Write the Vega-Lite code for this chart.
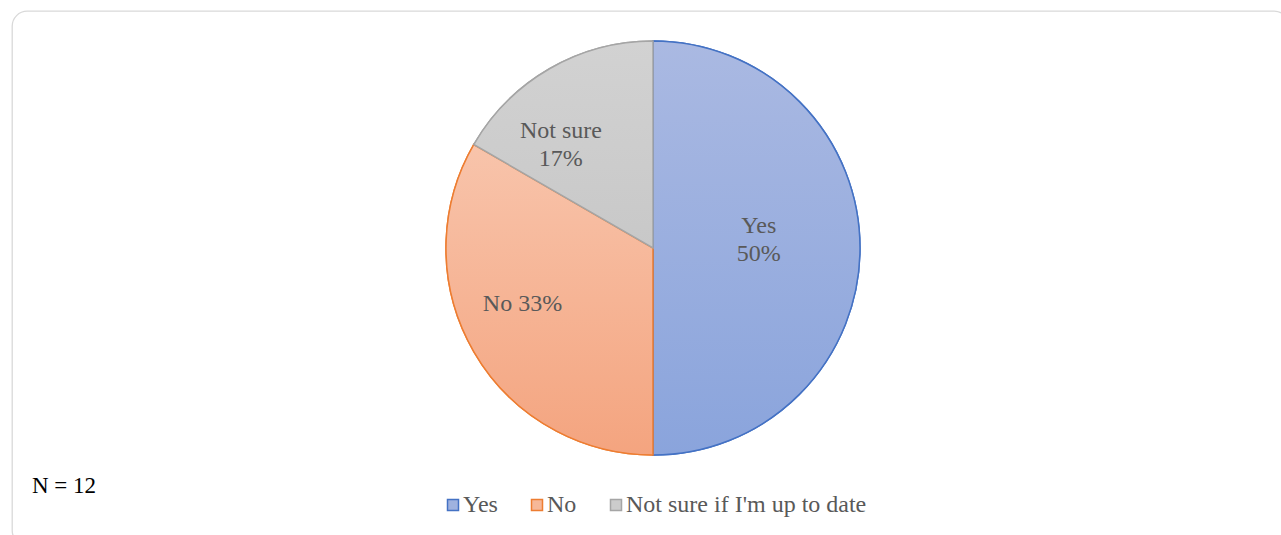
{
  "$schema": "https://vega.github.io/schema/vega-lite/v6.json",
  "width": 1281,
  "height": 535,
  "autosize": {"type": "fit", "contains": "padding"},
  "padding": {"left": 12, "top": 11, "right": -8, "bottom": -10},
  "background": "white",
  "view": {"stroke": "#d9d9d9", "strokeWidth": 1.3, "cornerRadius": 15, "fill": "white"},
  "title": {
    "text": "N = 12",
    "orient": "bottom",
    "anchor": "start",
    "frame": "group",
    "offset": -70,
    "dx": 20,
    "font": "Liberation Serif",
    "fontSize": 23,
    "fontWeight": "normal",
    "color": "#000000"
  },
  "data": {
    "values": [
      {"cat": "Yes", "value": 6, "order": 1, "label": "Yes\n50%"},
      {"cat": "No", "value": 4, "order": 2, "label": "No 33%"},
      {"cat": "Not sure if I'm up to date", "value": 2, "order": 3, "label": "Not sure\n17%"}
    ]
  },
  "encoding": {
    "theta": {"field": "value", "type": "quantitative", "stack": true},
    "order": {"field": "order", "type": "quantitative", "sort": "ascending"},
    "detail": {"field": "cat", "type": "nominal"}
  },
  "layer": [
    {
      "mark": {"type": "arc", "x": 641, "y": 237, "outerRadius": 207, "strokeWidth": 1.5},
      "encoding": {
        "fill": {
          "field": "cat", "type": "nominal",
          "sort": ["Yes", "No", "Not sure if I'm up to date"],
          "scale": {"domain": ["Yes", "No", "Not sure if I'm up to date"], "range": ["#9fb2df", "#f6b898", "#cccccc"]},
          "legend": {
            "title": null,
            "orient": "none",
            "legendX": 429,
            "legendY": 482,
            "direction": "horizontal",
            "symbolType": "square",
            "symbolSize": 121,
            "symbolStrokeWidth": 1.5,
            "labelFont": "Liberation Serif",
            "labelFontSize": 24,
            "labelColor": "#595959",
            "labelOffset": -2,
            "labelLimit": 0,
            "columnPadding": 27
          }
        },
        "stroke": {
          "field": "cat", "type": "nominal",
          "sort": ["Yes", "No", "Not sure if I'm up to date"],
          "scale": {"domain": ["Yes", "No", "Not sure if I'm up to date"], "range": ["#4472c4", "#ed7d31", "#a5a5a5"]},
          "legend": {
            "title": null,
            "orient": "none",
            "legendX": 429,
            "legendY": 482,
            "direction": "horizontal",
            "symbolType": "square",
            "symbolSize": 121,
            "symbolStrokeWidth": 1.5,
            "labelFont": "Liberation Serif",
            "labelFontSize": 24,
            "labelColor": "#595959",
            "labelOffset": -2,
            "labelLimit": 0,
            "columnPadding": 27
          }
        }
      }
    },
    {
      "mark": {"type": "arc", "x": 641, "y": 237, "outerRadius": 207, "strokeWidth": 1.5},
      "encoding": {
        "fill": {
          "condition": [
            {"test": "datum.order === 1", "value": {"gradient": "linear", "x1": 0, "y1": 0, "x2": 0, "y2": 1, "stops": [{"offset": 0, "color": "#aab9e2"}, {"offset": 1, "color": "#8aa4dc"}]}},
            {"test": "datum.order === 2", "value": {"gradient": "linear", "x1": 0, "y1": 0, "x2": 0, "y2": 1, "stops": [{"offset": 0, "color": "#f8c4ab"}, {"offset": 1, "color": "#f4a47f"}]}}
          ],
          "value": {"gradient": "linear", "x1": 0, "y1": 0, "x2": 0, "y2": 1, "stops": [{"offset": 0, "color": "#d2d2d2"}, {"offset": 1, "color": "#c8c8c8"}]}
        },
        "stroke": {
          "condition": [
            {"test": "datum.order === 1", "value": "#4472c4"},
            {"test": "datum.order === 2", "value": "#ed7d31"}
          ],
          "value": "#a5a5a5"
        }
      }
    },
    {
      "mark": {"type": "text", "x": 641, "y": 237, "radius": 108, "thetaOffset": -0.204, "font": "Liberation Serif", "fontSize": 24, "color": "#595959", "lineBreak": "\n", "lineHeight": 28, "align": "center", "baseline": "middle"},
      "encoding": {
        "text": {"condition": {"test": "datum.order === 1", "field": "label"}, "value": ""}
      }
    },
    {
      "mark": {"type": "text", "x": 641, "y": 237, "radius": 142, "thetaOffset": 0.119, "font": "Liberation Serif", "fontSize": 24, "color": "#595959", "lineBreak": "\n", "lineHeight": 28, "align": "center", "baseline": "middle"},
      "encoding": {
        "text": {"condition": {"test": "datum.order === 2", "field": "label"}, "value": ""}
      }
    },
    {
      "mark": {"type": "text", "x": 641, "y": 237, "radius": 149, "thetaOffset": -0.143, "font": "Liberation Serif", "fontSize": 24, "color": "#595959", "lineBreak": "\n", "lineHeight": 28, "align": "center", "baseline": "middle"},
      "encoding": {
        "text": {"condition": {"test": "datum.order === 3", "field": "label"}, "value": ""}
      }
    }
  ]
}
